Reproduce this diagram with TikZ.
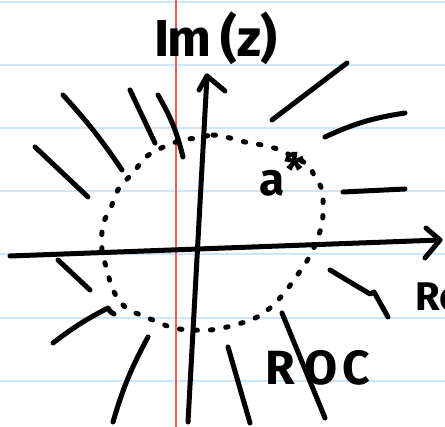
\documentclass[tikz,border=0pt]{standalone}
\usepackage{fontspec}
\setmainfont{Fira Sans}
\usetikzlibrary{calc}
\definecolor{ruleblue}{RGB}{204,230,248}
\definecolor{marginred}{RGB}{240,90,90}
\begin{document}
\begin{tikzpicture}[x=1pt,y=-1pt,
  pen/.style={line width=5pt, line cap=round, line join=round, black},
  ruling/.style={line width=2pt, color=ruleblue},
  margin/.style={line width=1.5pt, color=marginred},
  roc/.style={line width=5pt, line cap=round, dash pattern=on 2.5pt off 13pt, black},
  lbl/.style={inner sep=0pt, font=\fontsize{40}{40}\selectfont\bfseries}]
\useasboundingbox (0,0) rectangle (445,427);
\clip (0,0) rectangle (445,427);
\fill[white] (0,0) rectangle (445,427);
% paper
\foreach \yy in {2,65,128,191,254,318,381} \draw[ruling] (0,\yy) -- (445,\yy);
\draw[margin] (176,0) -- (176,427);
% axes
\coordinate (xl) at (10,256);
\coordinate (xr) at (440,240);
\coordinate (xa1) at (426,228);
\coordinate (xa2) at (425,258);
\coordinate (yb) at (188,422);
\coordinate (yt) at (207,76);
\coordinate (ya1) at (199,90);
\coordinate (ya2) at (225,91);
\draw[pen] (xl) -- (xr);
\draw[pen] (xa1) -- (xr) -- (xa2);
\draw[pen] (yb) -- (yt);
\draw[pen] (ya1) -- (yt) -- (ya2);
% dotted circle (ROC boundary)
\draw[roc] plot[smooth cycle, tension=0.6] coordinates {
 (198,138) (213,135) (230,138) (245,142) (262,145) (280,150) (295,158) (308,165)
 (315,177) (322,190) (323,210) (322,224) (318,237) (312,252) (305,264) (296,277)
 (285,292) (270,308) (253,319) (227,327) (210,330) (192,330) (173,328) (158,322)
 (143,316) (125,307) (113,290) (107,270) (102,250) (103,225) (112,205) (119,188)
 (133,173) (143,160) (153,152) (166,146) (182,140)};
% hatching strokes (outside)
\draw[pen] (63,95) to[bend left=4] (122,170);
\draw[pen] (130,90) -- (155,143);
\draw[pen] (158,95) to[bend left=8] (183,157);
\draw[pen] (35,147) -- (88,197);
\draw[pen] (347,63) -- (272,120);
\draw[pen] (405,113) to[bend right=8] (325,137);
\draw[pen] (343,192) -- (405,189);
\draw[pen] (330,270) -- (370,294) -- (374,292) -- (388,317);
\draw[pen] (58,260) -- (90,290);
\draw[pen] (114,314) to[bend left=20] (108,308) to[bend right=5] (53,343);
\draw[pen] (148,337) to[bend right=6] (113,422);
\draw[pen] (228,347) -- (250,423);
\draw[pen] (282,313) -- (325,418);
% labels
\node[lbl, font=\fontsize{52}{52}\selectfont\bfseries] (im) at (216,38) {I\kern-2pt m\kern9pt(z)};
\node[lbl, font=\fontsize{46}{46}\selectfont\bfseries] (astar) at (282,174) {a\raisebox{9pt}{*}};
\node[lbl, anchor=west] (re) at (415,297) {Re};
\node[lbl, font=\fontsize{48}{48}\selectfont\bfseries] (rocl) at (318,368) {R\kern9pt O\kern5pt C};
\end{tikzpicture}
\end{document}
